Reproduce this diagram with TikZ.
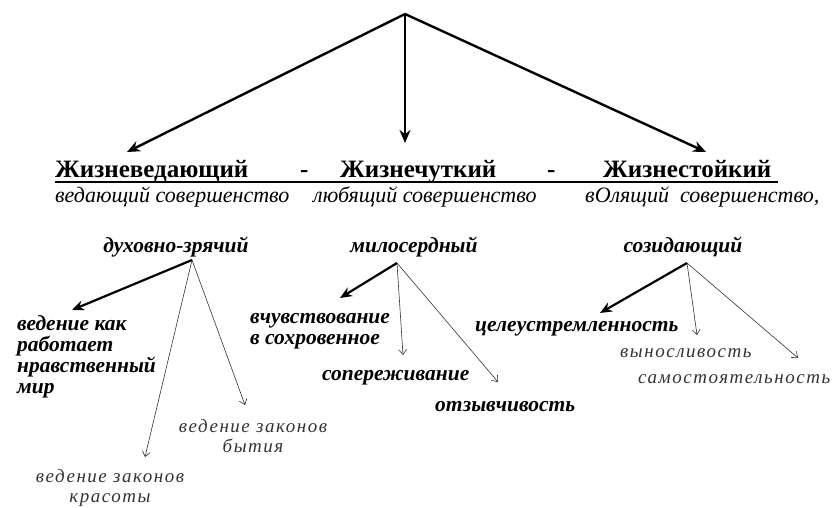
\documentclass[tikz,border=0pt]{standalone}
\usepackage{fontspec}
\setmainfont{Liberation Serif}[
  BoldFont={Liberation Serif Bold},
  ItalicFont={Liberation Serif Italic},
  BoldItalicFont={Liberation Serif Bold Italic}]
\usetikzlibrary{arrows.meta}

\tikzset{
  head/.style={font=\bfseries\fontsize{25}{26}\selectfont, inner sep=0pt, anchor=base west},
  motto/.style={font=\itshape\fontsize{22}{22}\selectfont, inner sep=0pt, anchor=base west},
  branch/.style={font=\bfseries\itshape\fontsize{21.5}{22}\selectfont, inner sep=0pt, anchor=base},
  leaf/.style={font=\bfseries\itshape\fontsize{21.5}{21}\selectfont, inner sep=0pt, align=left},
  faint/.style={font=\itshape\fontsize{19}{20}\selectfont\addfontfeatures{LetterSpace=8}, inner sep=0pt, align=center, text=black!80},
  bigarrow/.style={-{Stealth[length=13pt,width=11pt]}, line width=2.4pt},
  thickarrow/.style={-{Stealth[length=12pt,width=10pt]}, line width=2.2pt},
  thinarrow/.style={-{Straight Barb[length=5pt,width=8pt]}, line width=0.6pt, draw=black!80},
}

\begin{document}
\begin{tikzpicture}[x=1pt,y=-1pt]
  \useasboundingbox (0,0) rectangle (832,508);

  % top of the tree
  \coordinate (apex) at (405,14);

  % headline
  \node[head] (ved) at (55,177) {Жизневедающий};
  \node[head] (dash1) at (300,177) {-};
  \node[head] (chut) at (340,177) {Жизнечуткий};
  \node[head] (dash2) at (547,177) {-};
  \node[head] (stoj) at (603,177) {Жизнестойкий};
  \draw[line width=1.4pt] (55,182) -- (778,182);

  % mottos
  \node[motto] (mved) at (55,202) {ведающий совершенство};
  \node[motto] (mchut) at (313,202) {любящий совершенство};
  \node[motto] (mstoj) at (585,202) {вОлящий\ \ совершенство,};

  \coordinate (vedTip) at (127,152);
  \coordinate (chutTip) at (405,143);
  \coordinate (stojTip) at (706,152);
  \draw[bigarrow] (apex) -- (vedTip);
  \draw[bigarrow] (apex) -- (chutTip);
  \draw[bigarrow] (apex) -- (stojTip);

  % branches
  \node[branch] (zryach) at (176,252) {духовно-зрячий};
  \node[branch] (miloser) at (414,252) {милосердный};
  \node[branch] (sozid) at (683,252) {созидающий};

  % leaves
  \node[leaf, anchor=north west] (nrav) at (17,315) {ведение как\\работает\\нравственный\\мир};
  \node[faint, anchor=north] (krasota) at (110,469) {ведение законов\\красоты};
  \node[faint, anchor=north] (bytie) at (253,419) {ведение законов\\бытия};

  \node[leaf, anchor=north west] (vchuv) at (250,313) {вчувствование\\в сохровенное};
  \node[leaf, anchor=base west] (soper) at (322,380) {сопереживание};
  \node[leaf, anchor=base west] (otzyv) at (435,411) {отзывчивость};

  \node[leaf, anchor=base west] (celeu) at (475,331) {целеустремленность};
  \node[faint, anchor=base west] (vynos) at (620,357) {выносливость};
  \node[faint, anchor=base west] (samost) at (638,383) {самостоятельность};

  % arrows from the branches
  \coordinate (zryachFoot) at (192,260);
  \coordinate (nravTip) at (72,310);
  \coordinate (krasotaTip) at (145,457);
  \coordinate (bytieTip) at (245,405);
  \draw[thickarrow] (zryachFoot) -- (nravTip);
  \draw[thinarrow] (zryachFoot) -- (krasotaTip);
  \draw[thinarrow] (zryachFoot) -- (bytieTip);

  \coordinate (miloserFoot) at (397,263);
  \coordinate (vchuvTip) at (340,298);
  \coordinate (soperTip) at (403,355);
  \coordinate (otzyvTip) at (498,382);
  \draw[thickarrow] (miloserFoot) -- (vchuvTip);
  \draw[thinarrow] (miloserFoot) -- (soperTip);
  \draw[thinarrow] (miloserFoot) -- (otzyvTip);

  \coordinate (sozidFoot) at (687,263);
  \coordinate (celeuTip) at (600,313);
  \coordinate (vynosTip) at (697,335);
  \coordinate (samostTip) at (798,358);
  \draw[thickarrow] (sozidFoot) -- (celeuTip);
  \draw[thinarrow] (sozidFoot) -- (vynosTip);
  \draw[thinarrow] (sozidFoot) -- (samostTip);
\end{tikzpicture}
\end{document}
